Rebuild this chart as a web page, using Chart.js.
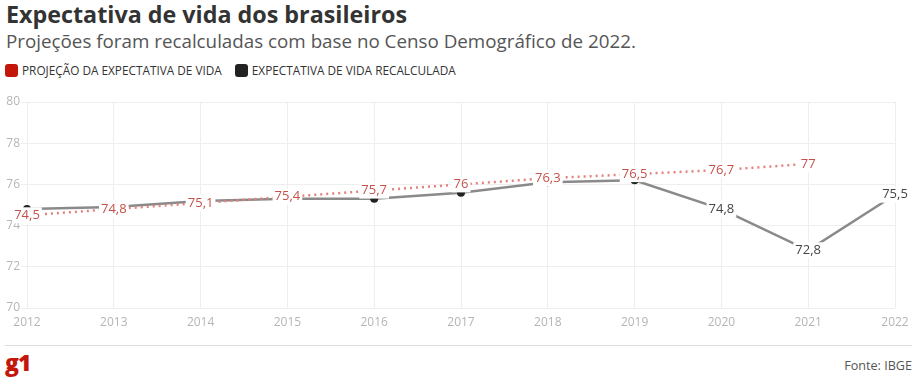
<!DOCTYPE html>
<html>
<head>
<meta charset="utf-8">
<script src="https://cdn.jsdelivr.net/npm/chart.js@4.4.0/dist/chart.umd.min.js"></script>
<style>
  body { margin: 0; background: #fff; font-family: "Open Sans", sans-serif; }
  #wrap { position: relative; width: 917px; height: 388px; overflow: hidden; }
  #title { position: absolute; left: 6px; top: -2px; font-size: 23.3px; font-weight: 700; color: #333; }
  #subtitle { position: absolute; left: 6px; top: 28px; font-size: 18.8px; color: #555; }
  #legend { position: absolute; left: 5px; top: 62px; font-size: 11.8px; color: #333; display: flex; }
  .item { display: flex; align-items: center; margin-right: 13px; }
  .box { width: 13px; height: 13px; border-radius: 3px; margin-right: 4px; }
  #chartBox { position: absolute; left: 0; top: 90px; width: 917px; height: 245px; }
  #rule { position: absolute; left: 5px; right: 5px; top: 345px; border-top: 1px solid #ddd; }
  #logo { position: absolute; left: 5px; top: 346px; font-size: 23px; font-weight: 800; color: #c4170c; letter-spacing: -1px; }
  #source { position: absolute; right: 5px; top: 357px; font-size: 12.6px; color: #555; }
</style>
</head>
<body>
<div id="wrap">
  <div id="title">Expectativa de vida dos brasileiros</div>
  <div id="subtitle">Projeções foram recalculadas com base no Censo Demográfico de 2022.</div>
  <div id="legend"></div>
  <div id="chartBox"><canvas id="lifeChart"></canvas></div>
  <div id="rule"></div>
  <div id="logo">g1</div>
  <div id="source">Fonte: IBGE</div>
</div>
<script>
// dados
const years = ['2012', '2013', '2014', '2015', '2016', '2017', '2018', '2019', '2020', '2021', '2022'];
const projecao = [74.5, 74.8, 75.1, 75.4, 75.7, 76, 76.3, 76.5, 76.7, 77, null];
const recalculada = [74.8, 74.9, 75.2, 75.3, 75.3, 75.6, 76.1, 76.2, 74.8, 72.8, 75.5];
const yTicks = [70, 72, 74, 76, 78, 80];

const seriesNames = ['PROJEÇÃO DA EXPECTATIVA DE VIDA', 'EXPECTATIVA DE VIDA RECALCULADA'];
const seriesColors = ['#c4170c', '#222222'];

// legenda em HTML
const legend = document.getElementById('legend');
seriesNames.forEach((name, i) => {
    const el = document.createElement('div');
    el.className = 'item';
    el.innerHTML = '<span class="box" style="background:' + seriesColors[i] + '"></span>' + name;
    legend.appendChild(el);
});

function fmt(v) {
    return String(v).replace('.', ',');
}

// rótulos com fundo branco
const labelPlugin = {
    id: 'valueLabels',
    afterDatasetsDraw(chart) {
        const ctx = chart.ctx;
        ctx.save();
        ctx.font = '13px "Open Sans", sans-serif';
        ctx.textAlign = 'center';
        ctx.textBaseline = 'middle';
        chart.data.datasets.forEach((ds, di) => {
            const meta = chart.getDatasetMeta(di);
            meta.data.forEach((pt, i) => {
                const v = ds.data[i];
                if (v == null) return;
                if (di === 1 && projecao[i] != null && Math.abs(projecao[i] - v) < 1) return;
                const txt = fmt(v);
                const w = ctx.measureText(txt).width;
                ctx.fillStyle = '#fff';
                ctx.fillRect(pt.x - w / 2 - 2, pt.y - 8, w + 4, 16);
                ctx.fillStyle = ds.labelColor;
                ctx.fillText(txt, pt.x, pt.y);
            });
        });
        ctx.restore();
    }
};

new Chart(document.getElementById('lifeChart'), {
    type: 'line',
    data: {
        labels: years,
        datasets: [{
            label: seriesNames[0],
            data: projecao,
            borderColor: '#e3827c',
            borderWidth: 2.5,
            borderDash: [2, 4],
            pointRadius: 0,
            labelColor: '#c4514a',
            tension: 0
        }, {
            label: seriesNames[1],
            data: recalculada,
            borderColor: '#8a8a8a',
            borderWidth: 2.5,
            pointRadius: 4,
            pointBackgroundColor: '#222',
            pointBorderWidth: 0,
            labelColor: '#444',
            tension: 0
        }]
    },
    options: {
        responsive: true,
        maintainAspectRatio: false,
        animation: false,
        layout: { padding: { top: 12, right: 22, left: 0, bottom: 0 } },
        plugins: {
            legend: { display: false },
            tooltip: { enabled: false }
        },
        scales: {
            x: {
                offset: false,
                grid: { color: '#eeeeee', drawTicks: false },
                border: { display: false },
                ticks: { color: '#b5b5b5', font: { size: 12, family: '"Open Sans", sans-serif' }, padding: 7, maxRotation: 0 },
                afterFit: function(scale) { scale.height = 27; }
            },
            y: {
                min: 70,
                max: 80,
                afterBuildTicks: function(scale) {
                    scale.ticks = yTicks.map(v => ({ value: v }));
                },
                grid: { color: '#eeeeee', tickLength: 6 },
                border: { display: false },
                ticks: { color: '#b5b5b5', font: { size: 12, family: '"Open Sans", sans-serif' }, padding: 1 },
                afterFit: function(scale) { scale.width = 27; }
            }
        }
    },
    plugins: [labelPlugin]
});
</script>
</body>
</html>
